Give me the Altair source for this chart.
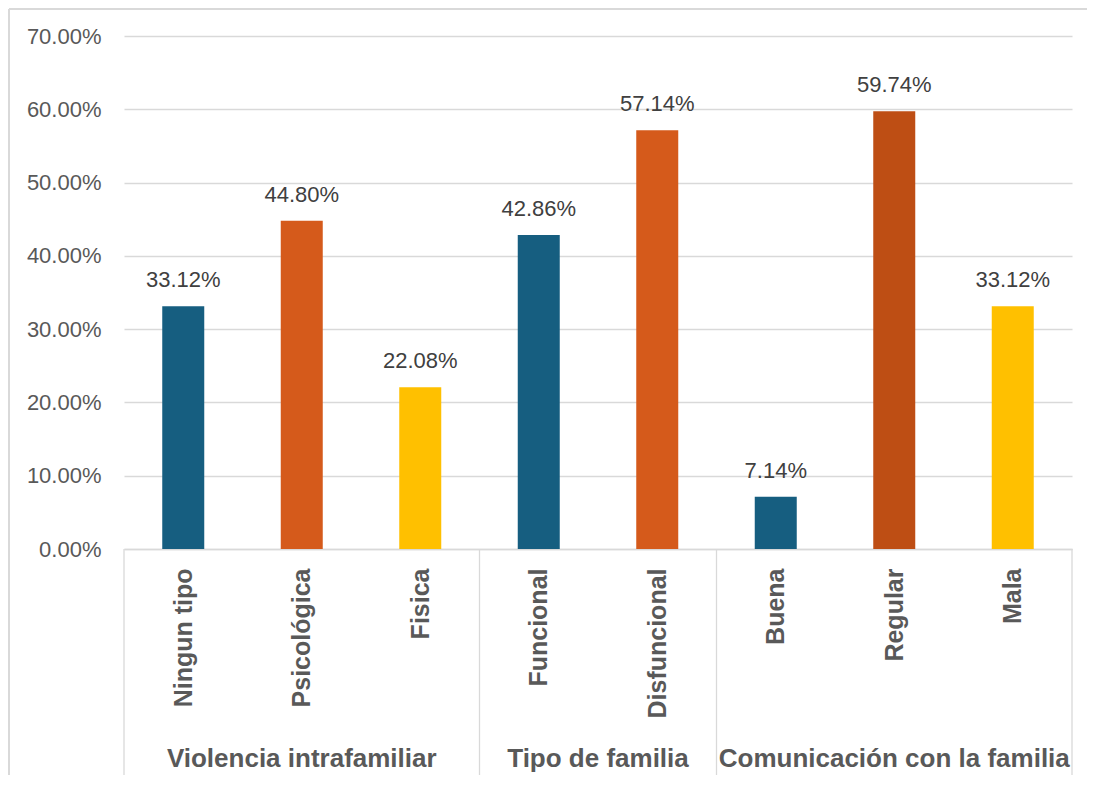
import json
import altair as alt
import pandas as pd

# ---- data ----
categories = ["Ningun tipo", "Psicológica", "Fisica", "Funcional", "Disfuncional",
              "Buena", "Regular", "Mala"]
values = [0.3312, 0.4480, 0.2208, 0.4286, 0.5714, 0.0714, 0.5974, 0.3312]
bar_colors = ["#165E80", "#D55A1B", "#FFC000", "#165E80", "#D55A1B",
              "#165E80", "#BE4E14", "#FFC000"]
groups = ["Violencia intrafamiliar", "Tipo de familia", "Comunicación con la familia"]
group_sizes = [3, 2, 3]
y_ticks = [0, 0.1, 0.2, 0.3, 0.4, 0.5, 0.6, 0.7]

FONT = "Liberation Sans"
GRID = "#D9D9D9"
LABEL = "#595959"

bars_df = pd.DataFrame({
    "idx": list(range(len(categories))),
    "cat": categories,
    "val": values,
    "color": bar_colors,
})

# group centres and separators, derived from group sizes
centers, seps = [], [-0.5]
start = 0
for n in group_sizes:
    centers.append(start + (n - 1) / 2)
    start += n
    seps.append(start - 0.5)
groups_df = pd.DataFrame({"g": groups, "c": centers})
seps_df = pd.DataFrame({"s": seps})

x_scale = alt.Scale(domain=[-0.5, len(categories) - 0.5], nice=False, zero=False, padding=0)
y_scale = alt.Scale(domain=[0, 0.7], nice=False)

label_expr = json.dumps(categories) + "[datum.value]"

base = alt.Chart(bars_df)

bars = base.mark_bar(size=42).encode(
    x=alt.X("idx:Q", scale=x_scale, title=None,
            axis=alt.Axis(values=list(range(len(categories))), labelExpr=label_expr,
                          labelAngle=270, labelFontSize=25, labelFontWeight="bold",
                          labelColor=LABEL, labelFont=FONT, labelPadding=19,
                          labelOverlap=False, ticks=False, grid=False,
                          domainColor=GRID, domainWidth=1.3)),
    y=alt.Y("val:Q", scale=y_scale, title=None,
            axis=alt.Axis(values=y_ticks, format=".2%", labelFontSize=22,
                          labelColor=LABEL, labelFont=FONT, labelPadding=23,
                          ticks=False, domain=False, gridColor=GRID, gridWidth=1.3)),
    color=alt.Color("color:N", scale=None),
)

labels = base.mark_text(dy=-19, baseline="alphabetic", fontSize=22,
                        color="#404040", font=FONT).encode(
    x=alt.X("idx:Q", scale=x_scale),
    y=alt.Y("val:Q", scale=y_scale),
    text=alt.Text("val:Q", format=".2%"),
)

seps_layer = alt.Chart(seps_df).mark_rule(color=GRID, strokeWidth=1.3).encode(
    x=alt.X("s:Q", scale=x_scale),
    y=alt.value(513),
    y2=alt.value(739),
)

group_labels = alt.Chart(groups_df).mark_text(
    fontSize=26, fontWeight="bold", color=LABEL, font=FONT, baseline="alphabetic"
).encode(
    x=alt.X("c:Q", scale=x_scale),
    y=alt.value(731),
    text="g:N",
)

border_left = alt.Chart(seps_df).mark_rule(color=GRID, strokeWidth=1.5).encode(
    x=alt.value(-115), y=alt.value(-27), y2=alt.value(739)
)
border_top = alt.Chart(seps_df).mark_rule(color=GRID, strokeWidth=1.5).encode(
    x=alt.value(-115), x2=alt.value(975), y=alt.value(-27)
)

chart = alt.layer(
    border_left, border_top, bars, labels, seps_layer, group_labels
).properties(
    width=948,
    height=513,
    autosize=alt.AutoSizeParams(type="none"),
    padding={"left": 116, "top": 28, "right": 15, "bottom": 228},
    background="white",
).configure_view(stroke=None)

chart.save("out.html", embed_options={"renderer": "svg", "actions": False})
